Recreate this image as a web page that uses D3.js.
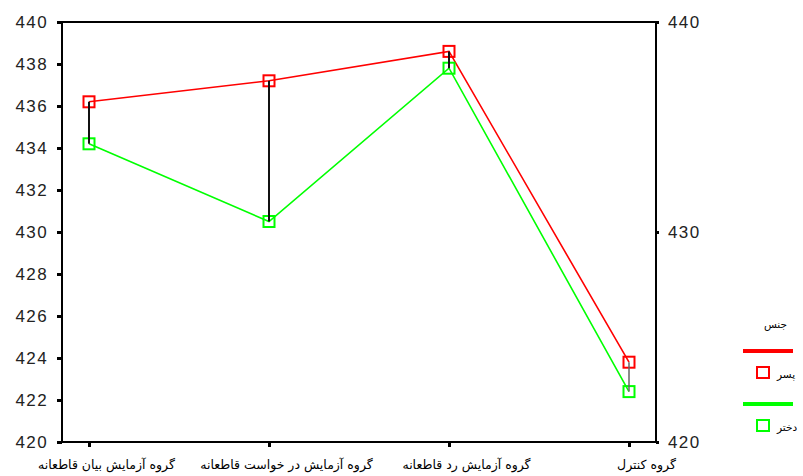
<!DOCTYPE html>
<html>
<head>
<meta charset="utf-8">
<script src="https://cdn.jsdelivr.net/npm/d3@7"></script>
<style>
  body { margin: 0; background: #fff; }
  svg { display: block; }
</style>
</head>
<body>
<div id="chart"></div>
<script>
// categories (group) and mean values per gender
var categories = ['گروه آزمایش بیان قاطعانه', 'گروه آزمایش در خواست قاطعانه', 'گروه آزمایش رد قاطعانه', 'گروه کنترل'];
var boyValues = [436.2, 437.2, 438.6, 423.8];
var girlValues = [434.2, 430.5, 437.8, 422.4];
var leftTicks = [420, 422, 424, 426, 428, 430, 432, 434, 436, 438, 440];
var rightTicks = [420, 430, 440];
var legendTitle = 'جنس';
var seriesNames = ['پسر', 'دختر'];
var seriesColors = ['#ff0000', '#00ff00'];

var W = 803, H = 476;
var plotL = 62, plotR = 656, plotT = 22, plotB = 442;

var svg = d3.select('#chart').append('svg').attr('width', W).attr('height', H);

var x = d3.scalePoint().domain(categories).range([plotL, plotR]).padding(0.15);
var y = d3.scaleLinear().domain([420, 440]).range([plotB, plotT]);

// frame
svg.append('rect')
    .attr('x', plotL).attr('y', plotT)
    .attr('width', plotR - plotL).attr('height', plotB - plotT)
    .attr('fill', 'none').attr('stroke', '#000').attr('stroke-width', 2);

// left axis
var yAxisL = svg.append('g').attr('transform', 'translate(' + plotL + ',0)')
    .call(d3.axisLeft(y).tickValues(leftTicks).tickSize(5).tickPadding(9).tickFormat(d3.format('d')));
// right axis
var yAxisR = svg.append('g').attr('transform', 'translate(' + plotR + ',0)')
    .call(d3.axisRight(y).tickValues(rightTicks).tickSize(3).tickPadding(9).tickFormat(d3.format('d')));
[yAxisL, yAxisR].forEach(function(a) {
    a.select('.domain').remove();
    a.selectAll('.tick line').attr('stroke', '#000').attr('stroke-width', 3);
    a.selectAll('.tick text')
        .attr('fill', '#222')
        .style('font-family', '"Liberation Sans", Arial, sans-serif')
        .style('font-size', '17px')
        .style('letter-spacing', '1.4px');
});

// x axis
var xAxis = svg.append('g').attr('transform', 'translate(0,' + plotB + ')')
    .call(d3.axisBottom(x).tickSize(5).tickPadding(13));
xAxis.select('.domain').remove();
xAxis.selectAll('.tick line').attr('stroke', '#000').attr('stroke-width', 3);
xAxis.selectAll('.tick text')
    .attr('dx', 17)
    .attr('fill', '#000')
    .style('font-family', '"DejaVu Sans", sans-serif')
    .style('font-size', '12.5px');

var series = [boyValues, girlValues];
var line = d3.line()
    .x(function(d, i) { return x(categories[i]); })
    .y(function(d) { return y(d); });

series.forEach(function(vals, s) {
    svg.append('path').datum(vals)
        .attr('d', line)
        .attr('fill', 'none')
        .attr('stroke', seriesColors[s])
        .attr('stroke-width', 1.6);
    svg.append('g').selectAll('rect').data(vals).enter().append('rect')
        .attr('x', function(d, i) { return x(categories[i]) - 5.5; })
        .attr('y', function(d) { return y(d) - 5.5; })
        .attr('width', 11).attr('height', 11)
        .attr('fill', 'none')
        .attr('stroke', seriesColors[s])
        .attr('stroke-width', 2);
});

// connecting drop lines between the two means (on top of markers)
svg.append('g').selectAll('line').data(categories).enter().append('line')
    .attr('x1', function(d) { return x(d); })
    .attr('x2', function(d) { return x(d); })
    .attr('y1', function(d, i) { return y(boyValues[i]); })
    .attr('y2', function(d, i) { return y(girlValues[i]); })
    .attr('stroke', function(d, i) { return i === categories.length - 1 ? '#666' : '#111'; })
    .attr('stroke-width', function(d, i) { return i === categories.length - 1 ? 1.5 : 2; });

// legend
var lg = svg.append('g');
lg.append('text')
    .attr('x', 787).attr('y', 328)
    .attr('text-anchor', 'end')
    .style('font-family', '"DejaVu Sans", sans-serif')
    .style('font-size', '10.5px')
    .text(legendTitle);
seriesNames.forEach(function(name, s) {
    var oy = 351 + s * 53;
    lg.append('line')
        .attr('x1', 743).attr('x2', 793)
        .attr('y1', oy).attr('y2', oy)
        .attr('stroke', seriesColors[s]).attr('stroke-width', 4);
    lg.append('rect')
        .attr('x', 757).attr('y', oy + 16)
        .attr('width', 12).attr('height', 11)
        .attr('fill', 'none')
        .attr('stroke', seriesColors[s]).attr('stroke-width', 2);
    lg.append('text')
        .attr('x', 777).attr('y', oy + 27)
        .attr('text-anchor', 'start')
        .style('font-family', '"DejaVu Sans", sans-serif')
        .style('font-size', '10.5px')
        .text(name);
});
</script>
</body>
</html>
